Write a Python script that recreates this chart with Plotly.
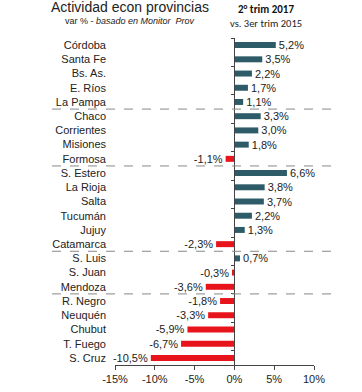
import plotly.graph_objects as go

provincias = ["Córdoba", "Santa Fe", "Bs. As.", "E. Ríos", "La Pampa",
              "Chaco", "Corrientes", "Misiones", "Formosa",
              "S. Estero", "La Rioja", "Salta", "Tucumán", "Jujuy", "Catamarca",
              "S. Luis", "S. Juan", "Mendoza",
              "R. Negro", "Neuquén", "Chubut", "T. Fuego", "S. Cruz"]
variacion = [5.2, 3.5, 2.2, 1.7, 1.1,
             3.3, 3.0, 1.8, -1.1,
             6.6, 3.8, 3.7, 2.2, 1.3, -2.3,
             0.7, -0.3, -3.6,
             -1.8, -3.3, -5.9, -6.7, -10.5]
separadores = [4.5, 8.5, 14.5, 17.5]
x_ticks = [-15, -10, -5, 0, 5, 10]
x_ticklabels = ["-15%", "-10%", "-5%", "0%", "5%", "10%"]

TEAL = "#2E5B68"
RED = "#E8141B"

W, H = 362, 392
L, R, T, B = 115, 48, 38, 27
pw, ph = W - L - R, H - T - B

def px_x(p):
    return (p - L) / pw

def px_y(p):
    return (H - B - p) / ph

labels = []
for v in variacion:
    s = f"{v:.1f}".replace(".", ",") + "%"
    labels.append("\u00a0" + s if v >= 0 else s + "\u00a0")
colors = [TEAL if v >= 0 else RED for v in variacion]

fig = go.Figure()
fig.add_trace(go.Bar(
    x=variacion, y=provincias, orientation="h",
    marker=dict(color=colors, line=dict(width=0)),
    width=0.42,
    text=labels, textposition="outside", constraintext="none",
    textfont=dict(family="Liberation Sans, Arial", size=11, color="#222"),
    cliponaxis=False, showlegend=False, hoverinfo="skip",
))
# invisible trace for the axis at x=0
fig.add_trace(go.Scatter(x=[None]*len(provincias), y=provincias, yaxis="y2",
                         mode="markers", showlegend=False, hoverinfo="skip"))

fig.update_layout(
    width=W, height=H,
    margin=dict(l=L, r=R, t=T, b=B, pad=0, autoexpand=False),
    paper_bgcolor="white", plot_bgcolor="white",
    font=dict(family="Liberation Sans, Arial", size=11, color="#222"),
    xaxis=dict(range=[-15, 10], tickvals=x_ticks, ticktext=x_ticklabels,
               showgrid=False, zeroline=False, showline=True, linecolor="#444",
               linewidth=1, ticks="outside", ticklen=4, tickcolor="#444",
               tickfont=dict(size=11), domain=[0, 1], automargin=False),
    yaxis=dict(categoryorder="array", categoryarray=provincias,
               autorange=False, range=[len(provincias) - 0.5, -0.5],
               showgrid=False, showline=False, ticks="", ticklabelstandoff=8,
               tickfont=dict(size=11), automargin=False),
    yaxis2=dict(overlaying="y", anchor="free", position=0.6, matches="y",
                categoryorder="array", categoryarray=provincias,
                showticklabels=False, showgrid=False, showline=True,
                linecolor="#444", linewidth=1, ticks="outside", ticklen=3,
                tickcolor="#444", tickson="boundaries", automargin=False),
    bargap=0.5,
)

for s in separadores:
    fig.add_shape(type="line", xref="paper", yref="y",
                  x0=px_x(52), x1=px_x(331), y0=s, y1=s,
                  line=dict(color="#888", width=1, dash="dash"))

fig.add_annotation(x=px_x(130), y=px_y(7), xref="paper", yref="paper",
                   text="Actividad econ provincias", showarrow=False,
                   font=dict(size=14, color="#222"), xanchor="center", yanchor="middle")
fig.add_annotation(x=px_x(130), y=px_y(21), xref="paper", yref="paper",
                   text="var % - <i>basado en Monitor  Prov</i>", showarrow=False,
                   font=dict(size=9, color="#222"), xanchor="center", yanchor="middle")
fig.add_annotation(x=px_x(266), y=px_y(9), xref="paper", yref="paper",
                   text="<b>2° trim 2017</b>", showarrow=False,
                   font=dict(family="Carlito, Open Sans, sans-serif", size=11, color="#111"),
                   xanchor="center", yanchor="middle")
fig.add_annotation(x=px_x(266), y=px_y(24), xref="paper", yref="paper",
                   text="vs. 3er trim 2015", showarrow=False,
                   font=dict(family="Carlito, Open Sans, sans-serif", size=10.5, color="#222"),
                   xanchor="center", yanchor="middle")

fig.write_html("out.html", config={"displayModeBar": False},
               post_script="document.body.style.margin='0';")
